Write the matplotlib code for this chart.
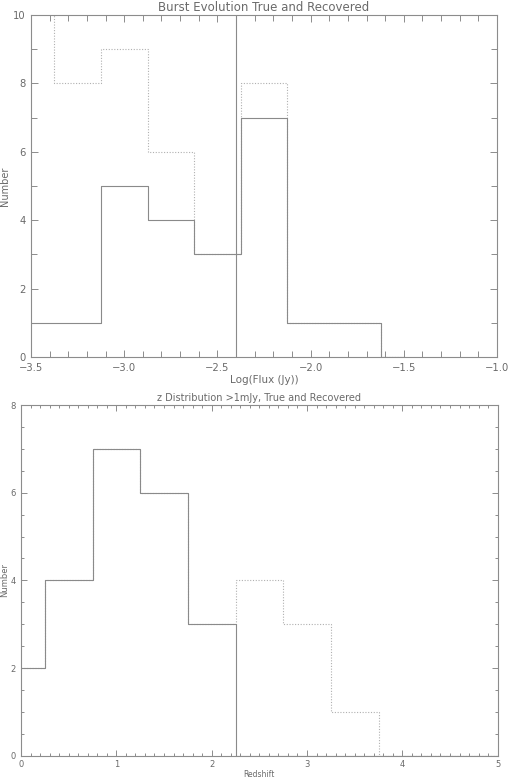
import matplotlib
matplotlib.use("Agg")
import matplotlib.pyplot as plt
from matplotlib.ticker import MultipleLocator
import numpy as np

# ---- data ----
flux_centers = [-3.5, -3.25, -3.0, -2.75, -2.5, -2.25, -2.0, -1.75, -1.5]
flux_recovered = [1, 1, 5, 4, 3, 7, 1, 1, 0]
flux_true = [12, 8, 9, 6, 3, 8, 1, 1, 0]
flux_cut = -2.4

z_centers = [0.0, 0.5, 1.0, 1.5, 2.0, 2.5, 3.0, 3.5, 4.0, 4.5, 5.0]
z_recovered = [2, 4, 7, 6, 3, 0, 0, 0, 0, 0, 0]
z_true = [2, 4, 7, 6, 3, 4, 3, 1, 0, 0, 0]

top_title = "Burst Evolution True and Recovered"
top_xlabel = "Log(Flux (Jy))"
bot_title = "z Distribution >1mJy, True and Recovered"
bot_xlabel = "Redshift"
ylabel = "Number"

plt.rcParams['font.family'] = ['DejaVu Sans']
txt = '#6a6a6a'
axc = '#8c8c8c'
solid_c = '#8a8a8a'
dot_c = '#b0b0b0'

fig = plt.figure(figsize=(5.08, 7.79), dpi=100)

def style(ax, fs, maj, mino):
    for s in ax.spines.values():
        s.set_color(axc)
        s.set_linewidth(0.8)
    ax.tick_params(which='both', direction='in', top=True, right=True,
                   colors=axc, labelcolor=txt, labelsize=fs, width=0.7)
    ax.tick_params(which='major', length=maj, pad=4)
    ax.tick_params(which='minor', length=mino)

# top panel
ax1 = fig.add_axes([31/508, 1-357/779, 466/508, 342/779])
ax1.step(flux_centers, flux_true, where='mid', color=dot_c, lw=0.8, ls=(0, (1, 1.5)))
ax1.step(flux_centers, flux_recovered, where='mid', color=solid_c, lw=0.8)
ax1.axvline(flux_cut, color=solid_c, lw=0.8)
ax1.set_xlim(-3.5, -1.0)
ax1.set_ylim(0, 10)
ax1.xaxis.set_major_locator(MultipleLocator(0.5))
ax1.xaxis.set_minor_locator(MultipleLocator(0.1))
ax1.yaxis.set_major_locator(MultipleLocator(2))
ax1.yaxis.set_minor_locator(MultipleLocator(1))
ax1.xaxis.set_major_formatter(matplotlib.ticker.FuncFormatter(lambda v, p: ("%.1f" % v).replace('-', '\u2212')))
style(ax1, 7.2, 5, 4)
ax1.set_title(top_title, fontsize=8.5, color=txt, pad=3)
ax1.set_xlabel(top_xlabel, fontsize=7.5, color=txt, labelpad=2)
ax1.set_ylabel(ylabel, fontsize=7, color=txt, labelpad=2)

# bottom panel
ax2 = fig.add_axes([21/508, 1-755.7/779, 476.7/508, 350.7/779])
ax2.step(z_centers, z_true, where='mid', color=dot_c, lw=0.8, ls=(0, (1, 1.5)))
ax2.step(z_centers, z_recovered, where='mid', color=solid_c, lw=0.8)
ax2.set_xlim(0, 5)
ax2.set_ylim(0, 8)
ax2.xaxis.set_major_locator(MultipleLocator(1))
ax2.xaxis.set_minor_locator(MultipleLocator(0.1))
ax2.yaxis.set_major_locator(MultipleLocator(2))
ax2.yaxis.set_minor_locator(MultipleLocator(0.5))
style(ax2, 6, 4, 2)
ax2.tick_params(axis='x', which='major', pad=3)
ax2.set_title(bot_title, fontsize=7, color=txt, pad=3)
ax2.set_xlabel(bot_xlabel, fontsize=5.5, color=txt, labelpad=0.5)
ax2.set_ylabel(ylabel, fontsize=6, color=txt, labelpad=1)

fig.savefig("out.png", dpi=100, facecolor='white')
